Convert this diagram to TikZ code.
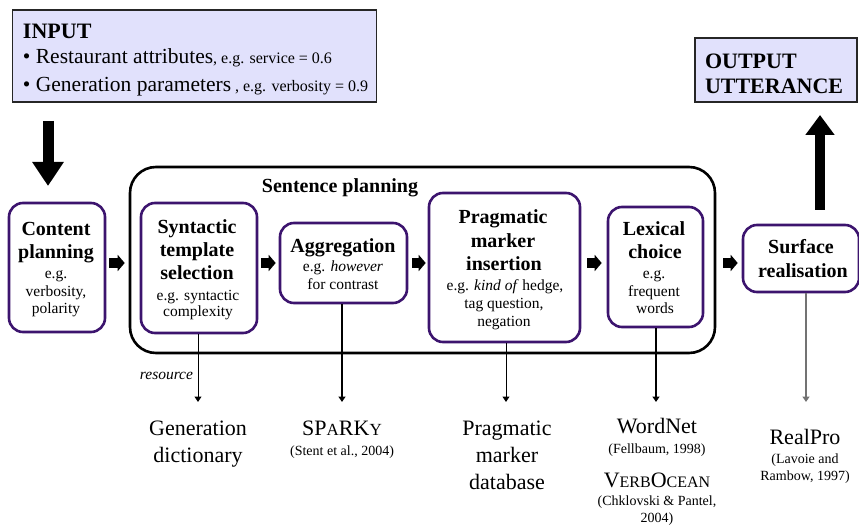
\documentclass[tikz,border=0pt]{standalone}
\usepackage{fontspec}
\setmainfont{Liberation Serif}
\usetikzlibrary{arrows.meta}
\definecolor{boxpurple}{RGB}{60,20,110}
\definecolor{lav}{RGB}{225,225,252}
\newcommand\fz[1]{\fontsize{#1}{#1}\selectfont}
\newcommand\mytxt[5]{\node[txt,font=#4] (#1) at (#2,#3) {#5};}
\begin{document}
\begin{tikzpicture}[x=1pt,y=-1pt,
  txt/.style={anchor=base,inner sep=0pt,outer sep=0pt},
  pbox/.style={draw=boxpurple,line width=2.6pt,rounded corners=14pt,fill=white,inner sep=0pt},
  lbox/.style={draw=black!85,line width=1.8pt,fill=lav,inner sep=0pt},
  fat/.style={line width=9.5pt,-{Triangle[width=16pt,length=7pt]}},
  bigdown/.style={line width=11pt,-{Triangle[width=30pt,length=24pt]}},
  bigup/.style={line width=10pt,-{Triangle[width=28pt,length=20pt]}},
  res/.style={-{Triangle[width=7pt,length=5.5pt]}},
]
\useasboundingbox (0,0) rectangle (859,526);
\def\T{\fz{20}\bfseries}
\def\S{\fz{15.5}}
\def\R{\fz{22}}
\def\C{\fz{14}}

% input / output
\node[lbox,minimum width=364pt,minimum height=92pt] (inp) at (194.5,56) {};
\node[lbox,minimum width=162pt,minimum height=64pt] (outp) at (776,70) {};
\node[txt,anchor=base west,font=\fz{22}\bfseries] (in1) at (23,39) {INPUT};
\node[txt,anchor=base west] (in2) at (23,64) {\fz{21.5}• Restaurant attributes\fz{16}, e.g. service = 0.6};
\node[txt,anchor=base west] (in3) at (23,92) {\fz{21.5}• Generation parameters\fz{16} , e.g. verbosity = 0.9};
\node[txt,anchor=base west,font=\fz{22}\bfseries] (out1) at (705,68.5) {OUTPUT};
\node[txt,anchor=base west,font=\fz{22}\bfseries] (out2) at (705,93.5) {UTTERANCE};

% sentence planning frame
\node[draw,line width=2.6pt,rounded corners=26pt,minimum width=585pt,minimum height=186pt,inner sep=0pt] (sp) at (422.5,260) {};
\mytxt{spl}{340}{192.3}{\T}{Sentence planning}

% process boxes
\node[pbox,minimum width=96pt,minimum height=129pt] (cp) at (57,267.5) {};
\node[pbox,minimum width=116pt,minimum height=130pt] (syn) at (199,268) {};
\node[pbox,minimum width=127pt,minimum height=80pt] (agg) at (343.5,263) {};
\node[pbox,minimum width=151pt,minimum height=149pt] (prag) at (504.5,267.5) {};
\node[pbox,minimum width=95pt,minimum height=120pt] (lex) at (655.5,267) {};
\node[pbox,minimum width=116pt,minimum height=67pt] (surf) at (801,258.5) {};

% box texts
\mytxt{cp1}{56}{236}{\T}{Content}
\mytxt{cp2}{56}{259}{\T}{planning}
\mytxt{cp3}{56}{279}{\S}{e.g.}
\mytxt{cp4}{56}{297}{\S}{verbosity,}
\mytxt{cp5}{56}{314}{\S}{polarity}

\mytxt{sy1}{197}{233.3}{\T}{Syntactic}
\mytxt{sy2}{197}{256.7}{\T}{template}
\mytxt{sy3}{197}{280}{\T}{selection}
\mytxt{sy4}{198}{300.7}{\S}{e.g. syntactic}
\mytxt{sy5}{198}{317}{\S}{complexity}

\mytxt{ag1}{343}{252.7}{\T}{Aggregation}
\mytxt{ag2}{343}{271.7}{\S}{e.g. \textit{however}}
\mytxt{ag3}{343}{289.3}{\S}{for contrast}

\mytxt{pr1}{503}{223.3}{\T}{Pragmatic}
\mytxt{pr2}{503}{247.3}{\T}{marker}
\mytxt{pr3}{504}{270.7}{\T}{insertion}
\mytxt{pr4}{505}{291}{\S}{e.g. \textit{kind of} hedge,}
\mytxt{pr5}{504}{309}{\S}{tag question,}
\mytxt{pr6}{504}{326.7}{\S}{negation}

\mytxt{lx1}{654}{236}{\T}{Lexical}
\mytxt{lx2}{655}{258.3}{\T}{choice}
\mytxt{lx3}{654}{279}{\S}{e.g.}
\mytxt{lx4}{654}{296.7}{\S}{frequent}
\mytxt{lx5}{655}{314}{\S}{words}

\mytxt{sf1}{801}{254}{\T}{Surface}
\mytxt{sf2}{803}{277.3}{\T}{realisation}

% fat arrows between boxes
\draw[fat,shorten <=3pt,shorten >=4pt] (cp.east |- agg.center) -- (sp.west |- agg.center);
\draw[fat,shorten <=3pt,shorten >=3pt] (syn.east |- agg.center) -- (agg.west);
\draw[fat,shorten <=4pt,shorten >=2pt] (agg.east) -- (prag.west |- agg.center);
\draw[fat,shorten <=6pt,shorten >=5pt] (prag.east |- agg.center) -- (lex.west |- agg.center);
\draw[fat,shorten <=7pt,shorten >=4pt] (sp.east |- agg.center) -- (surf.west |- agg.center);

% big arrows
\coordinate (d1) at (48,121);
\coordinate (d2) at (48,186);
\draw[bigdown] (d1) -- (d2);
\coordinate (u1) at (820,210);
\coordinate (u2) at (820,115);
\draw[bigup] (u1) -- (u2);

% resource arrows
\coordinate (e1) at (198,402);
\coordinate (e2) at (342,402);
\coordinate (e3) at (506,402);
\coordinate (e4) at (656,402);
\coordinate (e5) at (806,402);
\draw[res,line width=1pt] (syn.south -| e1) -- (e1);
\draw[res,line width=1.5pt] (agg.south -| e2) -- (e2);
\draw[res,line width=1pt] (prag.south -| e3) -- (e3);
\draw[res,line width=1.5pt] (lex.south -| e4) -- (e4);
\draw[res,line width=1.5pt,draw=black!55,fill=black] (surf.south -| e5) -- (e5);

\node[txt,anchor=base east,font=\S\itshape] (resl) at (193,379) {resource};

% resources
\mytxt{g1}{198}{435}{\R}{Generation}
\mytxt{g2}{198}{462}{\R}{dictionary}
\mytxt{s1}{342}{435}{\R}{SP{\fz{17}A}RK{\fz{17}Y}}
\mytxt{s2}{342}{455}{\C}{(Stent et al., 2004)}
\mytxt{p1}{507}{435}{\R}{Pragmatic}
\mytxt{p2}{507}{462}{\R}{marker}
\mytxt{p3}{507}{489}{\R}{database}
\mytxt{w1}{657}{433}{\R}{WordNet}
\mytxt{w2}{657}{453}{\C}{(Fellbaum, 1998)}
\mytxt{w3}{657}{487}{\R}{V{\fz{16}ERB}O{\fz{16}CEAN}}
\mytxt{w4}{657}{505}{\C}{(Chklovski \& Pantel,}
\mytxt{w5}{657}{522}{\C}{2004)}
\mytxt{r1}{805}{444}{\R}{RealPro}
\mytxt{r2}{805}{463}{\C}{(Lavoie and}
\mytxt{r3}{805}{480}{\C}{Rambow, 1997)}
\end{tikzpicture}
\end{document}
